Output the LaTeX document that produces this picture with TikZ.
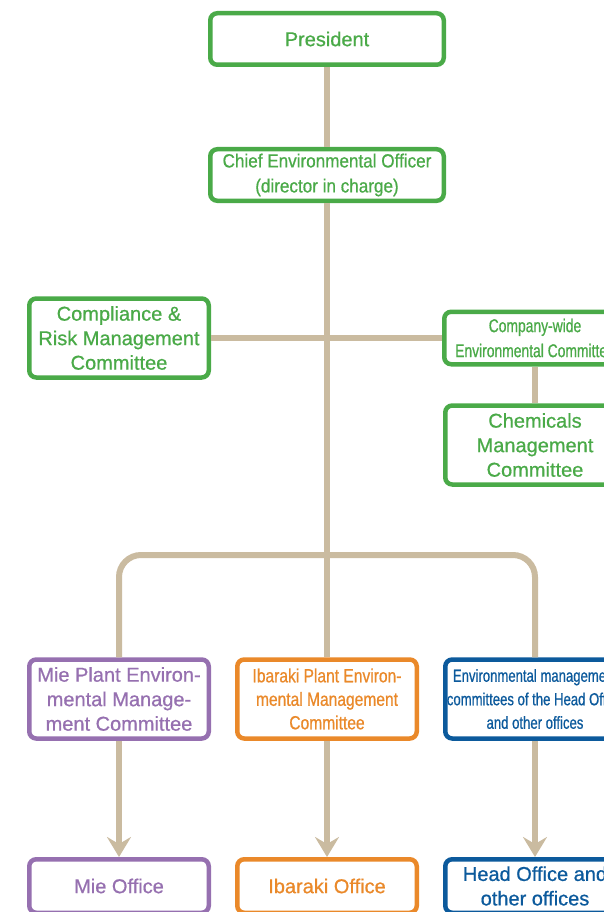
\documentclass[tikz,border=0pt]{standalone}
\usepackage{fontspec}
\setmainfont{Liberation Sans}[FakeBold=0.7]
\newfontfamily\narrowfont[FakeStretch=0.9, FakeBold=0.7]{Liberation Sans}
\newfontfamily\slimfont[FakeStretch=0.82, FakeBold=0.7]{Liberation Sans}
\newfontfamily\narrowerfont[FakeStretch=0.75, FakeBold=0.7]{Liberation Sans}
\usetikzlibrary{arrows.meta}
\definecolor{ecogreen}{RGB}{74,170,72}
\definecolor{miepurple}{RGB}{150,112,176}
\definecolor{ibrorange}{RGB}{234,137,42}
\definecolor{hoblue}{RGB}{12,90,156}
\definecolor{linktan}{RGB}{202,187,160}
\tikzset{
    unit/.style={draw, fill=white, line width=4.5pt, rounded corners=7pt,
        align=center, inner sep=0pt, minimum width=179.5pt, minimum height=79pt,
        font=\fontsize{20}{24.5}\selectfont},
    top/.style={unit, minimum width=233.5pt, minimum height=51.5pt},
    green/.style={draw=ecogreen, text=ecogreen},
    purple/.style={draw=miepurple, text=miepurple},
    orange/.style={draw=ibrorange, text=ibrorange},
    blue/.style={draw=hoblue, text=hoblue},
    link/.style={draw=linktan, line width=6pt},
    down/.style={link, -{Stealth[length=20pt, width=24pt, inset=7pt]}}
}

\begin{document}
\begin{tikzpicture}[x=1pt, y=-1pt]
    \path[use as bounding box, clip] (0,0) rectangle (604,912);

    \node[top, green] (pres) at (327,39) {President};
    \node[top, green, font=\narrowfont\fontsize{19}{25}\selectfont] (ceo) at (327,175)
        {Chief Environmental Officer\\(director in charge)};
    \node[unit, green] (crm) at (119,338) {Compliance \&\\Risk Management\\Committee};
    \node[unit, green, minimum width=181.5pt, minimum height=52.5pt,
        font=\narrowerfont\fontsize{18.5}{25}\selectfont] (cwec) at (535,338)
        {Company-wide\\Environmental Committee};
    \node[unit, green] (chem) at (535,445) {Chemicals\\Management\\Committee};

    \node[unit, purple] (mie) at (119,699) {Mie Plant Environ-\\mental Manage-\\ment Committee};
    \node[unit, orange, font=\slimfont\fontsize{19}{23.5}\selectfont] (ibr) at (327,699)
        {Ibaraki Plant Environ-\\mental Management\\Committee};
    \node[unit, blue, font=\narrowerfont\fontsize{17.5}{23.5}\selectfont] (hoc) at (535,699)
        {Environmental management\\committees of the Head Office\\and other offices};

    \node[unit, purple, minimum height=53.5pt] (mieoff) at (119,886) {Mie Office};
    \node[unit, orange, minimum height=53.5pt] (ibroff) at (327,886) {Ibaraki Office};
    \node[unit, blue, minimum height=53.5pt] (hooff) at (535,886) {Head Office and\\other offices};

    \coordinate (fork) at (327,555);

    \draw[link] (pres) -- (ceo);
    \draw[link] (ceo) -- (ibr);
    \draw[link] (crm) -- (cwec);
    \draw[link] (cwec) -- (chem);
    \draw[link, rounded corners=22pt] (mie) |- (fork) -| (hoc);
    \draw[down] (mie) -- (mieoff);
    \draw[down] (ibr) -- (ibroff);
    \draw[down] (hoc) -- (hooff);
\end{tikzpicture}
\end{document}
